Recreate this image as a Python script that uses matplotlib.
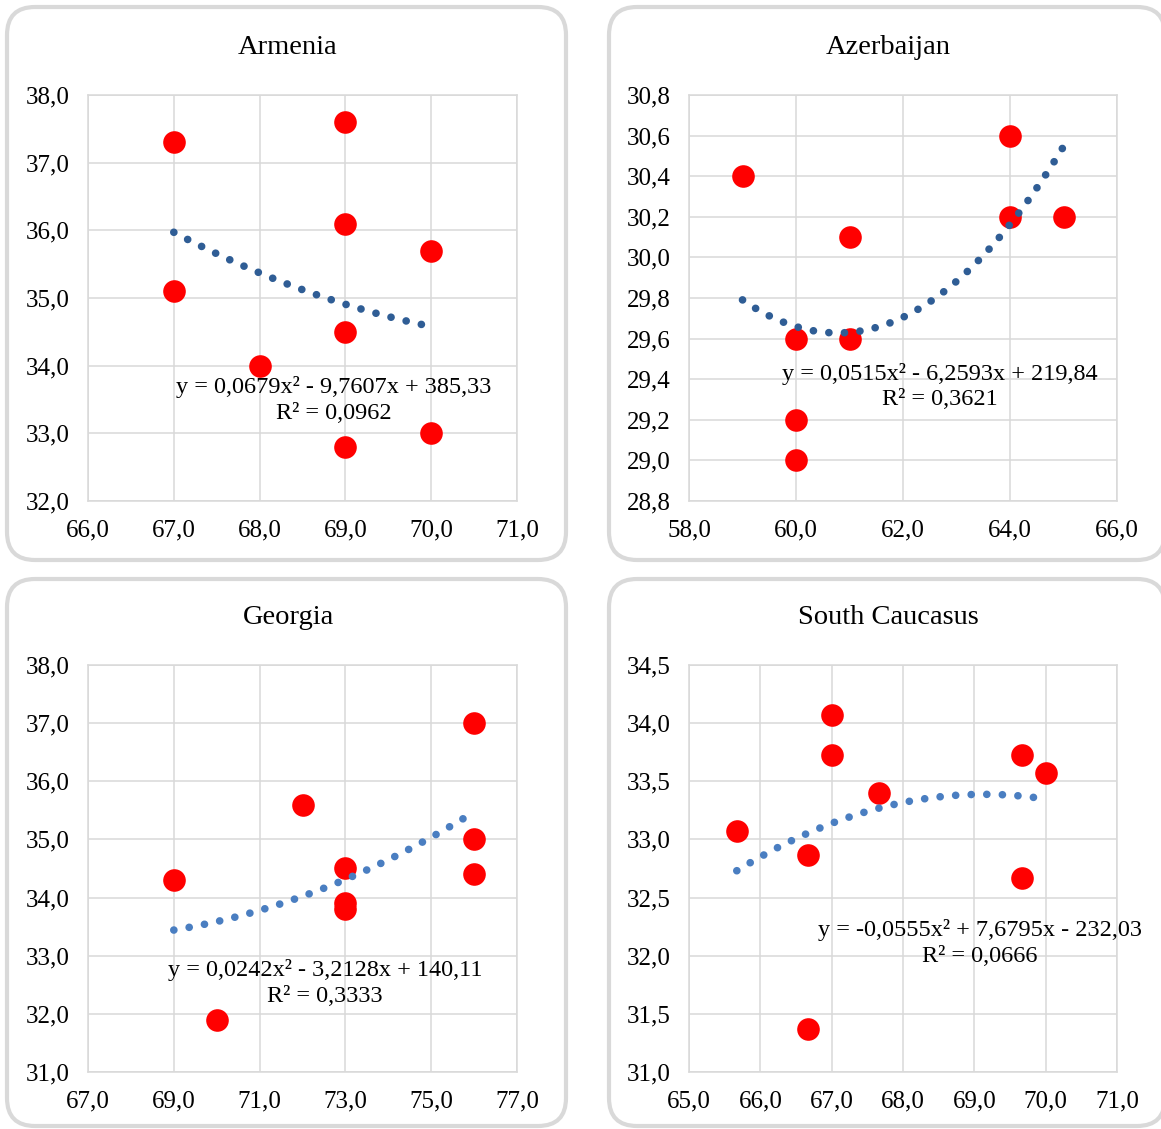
import numpy as np
import matplotlib
matplotlib.use("Agg")
import matplotlib.pyplot as plt
from matplotlib.patches import FancyBboxPatch
from matplotlib.ticker import FuncFormatter, FixedLocator

plt.rcParams['font.family'] = ['Liberation Serif', 'DejaVu Serif']

# data for each region
arm_x = [67, 67, 68, 69, 69, 69, 69, 70, 70]
arm_y = [37.3, 35.1, 34.0, 37.6, 36.1, 34.5, 32.8, 35.7, 33.0]

aze_x = [59, 60, 60, 60, 61, 61, 64, 64, 65]
aze_y = [30.4, 29.6, 29.2, 29.0, 30.1, 29.6, 30.6, 30.2, 30.2]

geo_x = [69, 70, 72, 73, 73, 73, 76, 76, 76]
geo_y = [34.3, 31.9, 35.6, 34.5, 33.9, 33.8, 37.0, 35.0, 34.4]

sc_x = [65.67, 66.67, 66.67, 67.0, 67.0, 67.67, 69.67, 69.67, 70.0]
sc_y = [33.07, 32.87, 31.37, 34.07, 33.73, 33.40, 33.73, 32.67, 33.57]

titles = ["Armenia", "Azerbaijan", "Georgia", "South Caucasus"]
equations = [
    "y = 0,0679x² - 9,7607x + 385,33\nR² = 0,0962",
    "y = 0,0515x² - 6,2593x + 219,84\nR² = 0,3621",
    "y = 0,0242x² - 3,2128x + 140,11\nR² = 0,3333",
    "y = -0,0555x² + 7,6795x - 232,03\nR² = 0,0666",
]

W, H = 1161, 1129
fig = plt.figure(figsize=(W / 100, H / 100), dpi=100)

# background layer in pixel units for the rounded frames
bg = fig.add_axes([0, 0, 1, 1], zorder=-1)
bg.set_xlim(0, W)
bg.set_ylim(H, 0)
bg.axis("off")
frames = [(7, 7, 559, 553), (609, 7, 556, 553), (7, 579, 559, 547), (609, 579, 556, 547)]
for fx, fy, fw, fh in frames:
    bg.add_patch(FancyBboxPatch((fx, fy), fw, fh, boxstyle="round,pad=0,rounding_size=28",
                                fc="white", ec="#d9d9d9", lw=3, clip_on=False))

# plot areas in pixels: left, right, top, bottom
areas = [(88, 517, 95, 501), (689, 1117, 95, 501), (88, 517, 665, 1072), (689, 1117, 665, 1072)]
limits = [((66, 71), (32, 38), 1, 1.0),
          ((58, 66), (28.8, 30.8), 2, 0.2),
          ((67, 77), (31, 38), 2, 1.0),
          ((65, 71), (31, 34.5), 1, 0.5)]
title_pos = [(288, 47), (888, 47), (288, 618), (888, 618)]
eq_pos = [(0.573, 0.248), (0.586, 0.282), (0.552, 0.219), (0.680, 0.317)]
trend_colors = ["#2f5d95", "#2f5d95", "#4a7ec1", "#4a7ec1"]
data = [(arm_x, arm_y), (aze_x, aze_y), (geo_x, geo_y), (sc_x, sc_y)]

fmt = FuncFormatter(lambda v, p: f"{v:.1f}".replace(".", ","))

for i, (xs, ys) in enumerate(data):
    l, r, t, b = areas[i]
    ax = fig.add_axes([l / W, 1 - b / H, (r - l) / W, (b - t) / H])
    (x0, x1), (y0, y1), xstep, ystep = limits[i]
    ax.set_xlim(x0, x1)
    ax.set_ylim(y0, y1)
    ax.xaxis.set_major_locator(FixedLocator(np.arange(x0, x1 + 1e-6, xstep)))
    ax.yaxis.set_major_locator(FixedLocator(np.arange(y0, y1 + 1e-6, ystep)))
    ax.xaxis.set_major_formatter(fmt)
    ax.yaxis.set_major_formatter(fmt)
    ax.grid(True, color="#d9d9d9", lw=1.1)
    ax.set_axisbelow(True)
    for s in ax.spines.values():
        s.set_color("#d9d9d9")
        s.set_linewidth(1.1)
    ax.tick_params(length=0, labelsize=18, pad=13)
    ax.tick_params(axis="x", pad=13)

    ax.scatter(xs, ys, s=265, color="#ff0000", zorder=3, linewidths=0)

    # second order polynomial trend
    coef = np.polyfit(xs, ys, 2)
    tx = np.linspace(min(xs), max(xs), 200)
    ax.plot(tx, np.polyval(coef, tx), color=trend_colors[i], lw=5.5,
            linestyle=(0, (0.01, 2.03)), dash_capstyle="round", zorder=4)

    ax.text(eq_pos[i][0], eq_pos[i][1], equations[i], transform=ax.transAxes,
            ha="center", va="center", fontsize=17.5, linespacing=1.3, zorder=5)

    fig.text(title_pos[i][0] / W, 1 - title_pos[i][1] / H, titles[i],
             ha="center", va="center", fontsize=20.5)

fig.savefig("out.png", dpi=100)
